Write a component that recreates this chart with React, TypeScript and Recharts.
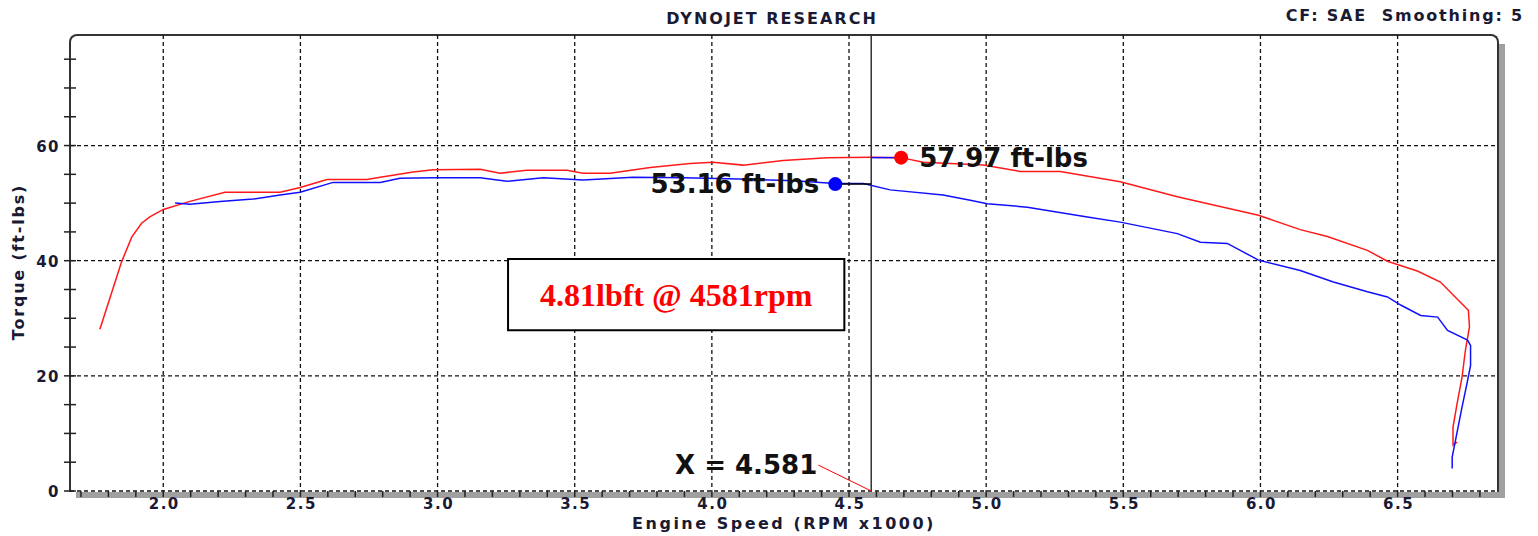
import React from 'react';
import {
  LineChart, Line, XAxis, YAxis, CartesianGrid, ReferenceLine, ReferenceDot, ReferenceArea,
} from 'recharts';

// run 1 (red)
const redRpm = [1.769, 1.848, 1.885, 1.921, 1.951, 2.0, 2.097, 2.225, 2.426, 2.499, 2.597, 2.743, 2.791, 2.911, 2.984, 3.155, 3.228, 3.326, 3.472, 3.531, 3.629, 3.775, 3.921, 4.004, 4.114, 4.26, 4.42, 4.577, 4.69, 4.77, 4.989, 5.124, 5.27, 5.489, 5.697, 5.781, 5.993, 6.145, 6.244, 6.39, 6.463, 6.572, 6.656, 6.718, 6.758, 6.762, 6.747, 6.735, 6.717, 6.702, 6.702, 6.717];
const redTq = [28.1, 39.8, 44.1, 46.5, 47.6, 48.9, 50.3, 51.9, 51.9, 52.7, 54.1, 54.1, 54.5, 55.4, 55.8, 55.9, 55.2, 55.7, 55.7, 55.2, 55.2, 56.2, 56.9, 57.1, 56.6, 57.4, 57.9, 57.95, 57.9, 57.1, 56.6, 55.5, 55.5, 53.7, 51.1, 50.2, 47.9, 45.4, 44.2, 41.8, 39.9, 38.2, 36.3, 33.3, 31.4, 28.5, 24.4, 19.8, 15.2, 11.1, 8.0, 8.5];

// run 2 (blue)
const blueRpm = [2.043, 2.097, 2.207, 2.327, 2.426, 2.499, 2.619, 2.791, 2.863, 2.984, 3.155, 3.253, 3.385, 3.531, 3.713, 3.895, 4.1, 4.3, 4.45, 4.552, 4.65, 4.843, 4.942, 5.004, 5.15, 5.369, 5.489, 5.697, 5.781, 5.879, 5.993, 6.145, 6.266, 6.39, 6.463, 6.511, 6.584, 6.646, 6.682, 6.755, 6.766, 6.766, 6.753, 6.735, 6.711, 6.699, 6.699];
const blueTq = [50.0, 49.8, 50.3, 50.7, 51.4, 51.9, 53.6, 53.6, 54.3, 54.4, 54.4, 53.8, 54.4, 54.0, 54.5, 54.4, 54.2, 53.9, 53.4, 53.4, 52.3, 51.4, 50.5, 49.9, 49.3, 47.6, 46.7, 44.7, 43.2, 43.0, 40.1, 38.3, 36.3, 34.6, 33.7, 32.3, 30.5, 30.2, 27.9, 26.2, 25.3, 21.8, 18.7, 14.6, 8.8, 5.9, 3.9];

const xMajor = [2.0, 2.5, 3.0, 3.5, 4.0, 4.5, 5.0, 5.5, 6.0, 6.5];
const yMajor = [0, 20, 40, 60];

const xMinor: number[] = [];
for (let i = 17; i <= 68; i++) xMinor.push(i / 10);
const yMinor: number[] = [];
for (let i = 0; i <= 75; i += 5) yMinor.push(i);

const cursorX = 4.581;
const redPeak = { rpm: 4.69, tq: 57.9, label: '57.97 ft-lbs' };
const bluePeak = { rpm: 4.45, tq: 53.3, label: '53.16 ft-lbs' };

const redData = redRpm.map((rpm, i) => ({ rpm, tq: redTq[i] }));
const blueData = blueRpm.map((rpm, i) => ({ rpm, tq: blueTq[i] }));

const TXT = '#1a1a33';
const FONT = '"DejaVu Sans", Verdana, sans-serif';

const XTick = ({ x, y, payload }: any) => {
  const v = payload.value;
  const major = xMajor.some((m) => Math.abs(m - v) < 1e-6);
  return (
    <g>
      <line x1={x} x2={x} y1={y} y2={y + 6} stroke="#222" strokeWidth={1.5} />
      {major && (
        <text x={x + 1} y={y + 18} textAnchor="middle" fill={TXT} fontSize={15} fontWeight="bold" fontFamily={FONT} letterSpacing={1.5}>
          {v.toFixed(1)}
        </text>
      )}
    </g>
  );
};

const YTick = ({ x, y, payload }: any) => {
  const v = payload.value;
  const major = yMajor.includes(v);
  return (
    <g>
      <line x1={x - 6} x2={x + 6} y1={y} y2={y} stroke="#222" strokeWidth={1.5} />
      {major && (
        <text x={x - 10} y={y + 6} textAnchor="end" fill={TXT} fontSize={15} fontWeight="bold" fontFamily={FONT} letterSpacing={1.5}>
          {v}
        </text>
      )}
    </g>
  );
};

const bigLabel = { fill: '#111', fontSize: 26, fontWeight: 'bold', fontFamily: FONT };

export default function App() {
  return (
    <div style={{ position: 'absolute', left: 0, top: 0, width: 1538, height: 536, background: '#fff' }}>
      {/* frame with shadow */}
      <div style={{ position: 'absolute', left: 69, top: 34, width: 1430, height: 458, boxSizing: 'border-box', border: '2px solid #333', borderBottom: 'none', borderRadius: '8px 8px 0 0' }} />
      <div style={{ position: 'absolute', left: 1499, top: 44, width: 6, height: 454, background: '#a0a0a0' }} />
      <div style={{ position: 'absolute', left: 76, top: 492, width: 1429, height: 6, background: '#a0a0a0' }} />

      <div style={{ position: 'absolute', left: 772, top: 9, transform: 'translateX(-50%)', fontFamily: FONT, fontWeight: 'bold', fontSize: 16, letterSpacing: 2, color: TXT, whiteSpace: 'nowrap' }}>
        DYNOJET RESEARCH
      </div>
      <div style={{ position: 'absolute', right: 14, top: 6, fontFamily: FONT, fontWeight: 'bold', fontSize: 16, letterSpacing: 1.8, color: TXT, whiteSpace: 'pre' }}>
        {'CF: SAE  Smoothing: 5'}
      </div>
      <div style={{ position: 'absolute', left: 18, top: 262, transform: 'translate(-50%, -50%) rotate(-90deg)', fontFamily: FONT, fontWeight: 'bold', fontSize: 16, letterSpacing: 1.8, color: TXT, whiteSpace: 'nowrap' }}>
        Torque (ft-lbs)
      </div>
      <div style={{ position: 'absolute', left: 784, top: 514, transform: 'translateX(-50%)', fontFamily: FONT, fontWeight: 'bold', fontSize: 16, letterSpacing: 2.5, color: TXT, whiteSpace: 'nowrap', lineHeight: '19px' }}>
        Engine Speed (RPM x1000)
      </div>

      <div style={{ position: 'absolute', left: 0, top: 0 }}>
        <LineChart width={1538} height={536} data={redData} margin={{ top: 35, right: 40, bottom: 15, left: 40 }}>
          <CartesianGrid
            stroke="#111"
            strokeDasharray="4 3"
            strokeWidth={1.3}
            horizontalValues={yMajor}
            verticalValues={xMajor}
          />
          <XAxis
            type="number"
            dataKey="rpm"
            domain={[1.66, 6.866]}
            allowDataOverflow
            ticks={xMinor}
            interval={0}
            tick={<XTick />}
            tickSize={0}
            tickMargin={0}
            axisLine={false}
            height={30}
          />
          <YAxis
            type="number"
            domain={[0, 79.2]}
            allowDataOverflow
            ticks={yMinor}
            interval={0}
            tick={<YTick />}
            tickSize={0}
            tickMargin={0}
            axisLine={false}
            width={30}
          />
          <ReferenceArea
            x1={3.257}
            x2={4.483}
            y1={27.9}
            y2={40.3}
            fill="#fff"
            fillOpacity={1}
            stroke="#000"
            strokeWidth={2}
            label={{ value: '4.81lbft @ 4581rpm', position: 'center', fill: '#ff0000', fontSize: 32, fontWeight: 'bold', fontFamily: '"Liberation Serif", "Times New Roman", serif' }}
          />
          <Line data={redData} dataKey="tq" type="linear" stroke="#ff1a1a" strokeWidth={1.5} dot={false} isAnimationActive={false} />
          <Line data={blueData} dataKey="tq" type="linear" stroke="#1010ff" strokeWidth={1.5} dot={false} isAnimationActive={false} />
          <ReferenceLine x={cursorX} stroke="#333" strokeWidth={1.5} />
          <ReferenceLine segment={[{ x: bluePeak.rpm, y: bluePeak.tq }, { x: cursorX, y: bluePeak.tq }]} stroke="#000" strokeWidth={1.5} />
          <ReferenceLine segment={[{ x: cursorX, y: redPeak.tq }, { x: redPeak.rpm, y: redPeak.tq }]} stroke="#1010ff" strokeWidth={1.5} />
          <ReferenceLine segment={[{ x: 4.388, y: 4.5 }, { x: cursorX, y: 0 }]} stroke="#ff0000" strokeWidth={1} />
          <ReferenceDot x={redPeak.rpm} y={redPeak.tq} r={7} fill="#ff0000" stroke="none" label={{ value: redPeak.label, position: 'right', offset: 11, ...bigLabel }} />
          <ReferenceDot x={bluePeak.rpm} y={bluePeak.tq} r={7} fill="#0000ff" stroke="none" label={{ value: bluePeak.label, position: 'left', offset: 9, ...bigLabel }} />
          <ReferenceDot x={4.388} y={4.5} r={0} fill="none" stroke="none" label={{ value: 'X = 4.581', position: 'left', offset: 1, ...bigLabel }} />
        </LineChart>
      </div>
    </div>
  );
}
